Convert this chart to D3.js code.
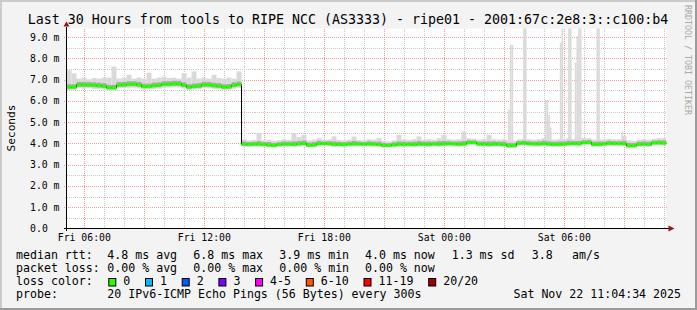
<!DOCTYPE html>
<html lang="en">
<head>
  <meta charset="UTF-8">
  <title>Smokeping - ripe01</title>
  <script src="https://d3js.org/d3.v7.min.js"></script>
  <style>
    body { margin: 0; background: #f3f3f3; }
    text { font-family: "DejaVu Sans Mono", monospace; fill: #000; }
  </style>
</head>
<body>
  <div id="chart"></div>
  <script>
    // 15 minute samples starting Fri 05:06:30 UTC, values in ms
    const t0 = Date.UTC(2025, 10, 21, 5, 6, 30);
    const sampleMin = 15;

    const median = [
      6.65,6.65,6.76,6.76,6.75,6.74,6.72,6.70,6.62,6.62,
      6.75,6.76,6.79,6.79,6.76,6.68,6.68,6.72,6.74,6.79,
      6.79,6.81,6.81,6.74,6.65,6.68,6.70,6.76,6.76,6.72,
      6.70,6.65,6.66,6.74,6.78,
      3.97,3.96,3.97,3.97,3.96,3.93,3.91,3.95,3.97,3.97,
      3.96,3.98,4.00,3.92,3.93,3.99,4.00,3.99,3.96,3.96,
      3.95,3.97,3.98,3.98,3.97,3.98,3.97,3.95,3.91,3.91,
      3.94,3.96,3.95,3.96,3.95,3.97,3.97,3.96,3.98,3.97,
      3.98,3.99,3.98,3.97,3.98,4.04,4.05,3.98,3.97,3.96,
      3.97,3.97,3.95,3.89,3.90,4.01,4.02,3.99,3.98,3.98,
      3.99,3.97,3.96,3.96,3.97,3.99,4.00,3.99,4.04,4.05,
      3.96,3.96,3.98,4.01,4.00,4.00,3.99,3.89,3.90,3.96,
      3.97,3.96,4.03,4.03,4.02
    ];

    const smokeHigh = [
      7.45,7.30,7.05,7.10,7.02,7.08,7.05,7.10,7.10,7.62,
      7.05,7.10,7.23,7.05,7.10,7.05,7.33,7.05,7.10,7.15,
      7.08,7.10,7.05,7.31,7.10,7.39,7.05,7.10,7.05,7.23,
      7.08,7.05,7.10,7.05,7.39,
      4.20,4.15,4.17,4.49,4.15,4.18,4.12,4.15,4.20,4.17,
      4.49,4.30,4.41,4.15,4.18,4.25,4.17,4.20,4.33,4.17,
      4.15,4.18,4.33,4.17,4.15,4.20,4.18,4.25,4.12,4.10,
      4.15,4.41,4.20,4.17,4.20,4.33,4.18,4.20,4.17,4.25,
      4.41,4.20,4.18,4.20,4.56,4.25,4.22,4.18,4.20,4.41,
      4.20,4.18,4.20,4.15,4.12,4.20,4.22,4.20,4.18,4.20,
      4.25,4.20,4.18,4.20,4.20,4.25,4.20,4.22,4.25,4.25,
      4.18,4.20,4.18,4.22,4.20,4.20,4.36,4.15,4.12,4.18,
      4.20,4.18,4.22,4.25,4.25
    ];

    const smokeLow = [
      6.52,6.53,6.60,6.58,6.60,6.57,6.56,6.55,6.50,6.50,
      6.60,6.60,6.62,6.62,6.60,6.54,6.55,6.57,6.58,6.62,
      6.63,6.64,6.63,6.58,6.52,6.54,6.56,6.60,6.60,6.57,
      6.56,6.52,6.53,6.58,6.62,
      3.85,3.84,3.85,3.85,3.84,3.81,3.80,3.83,3.85,3.85,
      3.84,3.86,3.88,3.81,3.82,3.87,3.88,3.87,3.84,3.84,
      3.83,3.85,3.86,3.86,3.85,3.86,3.85,3.83,3.80,3.80,
      3.82,3.84,3.83,3.84,3.83,3.85,3.85,3.84,3.86,3.85,
      3.86,3.87,3.86,3.85,3.86,3.92,3.93,3.86,3.85,3.84,
      3.85,3.85,3.83,3.78,3.79,3.89,3.90,3.87,3.86,3.86,
      3.87,3.85,3.84,3.84,3.85,3.87,3.88,3.87,3.92,3.93,
      3.84,3.84,3.86,3.89,3.88,3.88,3.87,3.78,3.79,3.84,
      3.85,3.84,3.91,3.91,3.90
    ];

    // single 5 minute steps with slow pings (step index from t0, max rtt in ms)
    const spikeStep = [265,266,267,274,275,287,288,289,290,296,297,301,302,305,306,307,308,318,319,333];
    const spikeTop  = [5.6,8.64,8.64,9.5,9.5,6.05,6.05,5.35,4.75,8.75,9.5,9.5,9.5,7.8,9.04,9.5,9.5,9.5,9.5,4.56];

    const yTicks = [1,2,3,4,5,6,7,8,9];
    const lossLabels = ["0","1","2","3","4-5","6-10","11-19","20/20"];
    const lossColors = ["#26ff00","#00b8ff","#0059ff","#7e00ff","#ff00ff","#ff5500","#ff0000","#a10000"];

    const rttLegend = ["median rtt:","4.8 ms avg","6.8 ms max","3.9 ms min","4.0 ms now","1.3 ms sd","3.8","am/s"];
    const lossLegend = ["packet loss:","0.00 % avg","0.00 % max","0.00 % min","0.00 % now"];
    const probeLegend = ["probe:","20 IPv6-ICMP Echo Pings (56 Bytes) every 300s"];
    const stamp = "Sat Nov 22 11:04:34 2025";
    const title = "Last 30 Hours from tools to RIPE NCC (AS3333) - ripe01 - 2001:67c:2e8:3::c100:b4";

    const W = 697, H = 310;
    const pL = 66.5, pR = 666.5, pT = 28.5, pB = 228.5;
    const colX = [16, 107.3, 193.3, 279.3, 365, 451.7, 531.7, 572];

    const svg = d3.select("#chart").append("svg")
      .attr("width", W).attr("height", H);

    // frame
    svg.append("rect").attr("width", W).attr("height", H).attr("fill", "#f3f3f3");
    svg.append("path").attr("d", `M1,${H} V1 H${W}`).attr("fill", "none")
      .attr("stroke", "#cbcbcb").attr("stroke-width", 2);
    svg.append("path").attr("d", `M0,${H - 1} H${W - 1} V0`).attr("fill", "none")
      .attr("stroke", "#9b9b9b").attr("stroke-width", 2);

    const x = d3.scaleUtc().domain([t0, t0 + 30 * 3600e3]).range([pL, pR]);
    const y = d3.scaleLinear().domain([0, 9.41]).range([pB, pT]);
    const tAt = i => t0 + i * sampleMin * 60e3;

    svg.append("rect").attr("x", pL).attr("y", pT)
      .attr("width", pR - pL).attr("height", pB - pT).attr("fill", "#fff");

    svg.append("clipPath").attr("id", "plot").append("rect")
      .attr("x", pL).attr("y", pT).attr("width", pR - pL).attr("height", pB - pT);

    // grid
    const grid = svg.append("g").attr("shape-rendering", "crispEdges")
      .attr("stroke-dasharray", "1,1").attr("fill", "none");
    const hours = d3.utcHour.range(new Date(t0), new Date(t0 + 30 * 3600e3));
    const halfSteps = d3.range(1, 19).map(k => k / 2);

    grid.selectAll(".vmin").data(hours.filter(d => d.getUTCHours() % 3 !== 0)).join("line")
      .attr("x1", d => Math.round(x(d)) + 0.5).attr("x2", d => Math.round(x(d)) + 0.5)
      .attr("y1", pT).attr("y2", pB).attr("stroke", "#c8c8c8");
    grid.selectAll(".hmin").data(halfSteps.filter(v => v % 1 !== 0)).join("line")
      .attr("x1", pL).attr("x2", pR)
      .attr("y1", d => Math.round(y(d)) + 0.5).attr("y2", d => Math.round(y(d)) + 0.5)
      .attr("stroke", "#c8c8c8");
    grid.selectAll(".vmaj").data(hours.filter(d => d.getUTCHours() % 3 === 0)).join("line")
      .attr("x1", d => Math.round(x(d)) + 0.5).attr("x2", d => Math.round(x(d)) + 0.5)
      .attr("y1", pT).attr("y2", pB).attr("stroke", "#f2a0a0");
    grid.selectAll(".hmaj").data(yTicks).join("line")
      .attr("x1", pL - 3).attr("x2", pR)
      .attr("y1", d => Math.round(y(d)) + 0.5).attr("y2", d => Math.round(y(d)) + 0.5)
      .attr("stroke", "#f2a0a0");

    // smoke
    const plot = svg.append("g").attr("clip-path", "url(#plot)");
    const idx = d3.range(median.length);

    plot.selectAll(".smoke").data(idx).join("rect")
      .attr("x", i => x(tAt(i))).attr("width", i => x(tAt(i + 1)) - x(tAt(i)))
      .attr("y", i => y(smokeHigh[i])).attr("height", i => y(smokeLow[i]) - y(smokeHigh[i]))
      .attr("fill", "#d9d9d9");

    plot.selectAll(".spike").data(spikeStep).join("rect")
      .attr("x", k => x(t0 + k * 300e3)).attr("width", k => x(t0 + (k + 1) * 300e3) - x(t0 + k * 300e3))
      .attr("y", (k, j) => y(spikeTop[j])).attr("height", (k, j) => y(3.95) - y(spikeTop[j]))
      .attr("fill", "#d9d9d9");

    const midHi = i => median[i] + Math.min(smokeHigh[i] - median[i], 0.25) * 0.55;
    const midLo = i => median[i] - (median[i] - smokeLow[i]) * 0.55;
    plot.selectAll(".smokemid").data(idx).join("rect")
      .attr("x", i => x(tAt(i))).attr("width", i => x(tAt(i + 1)) - x(tAt(i)))
      .attr("y", i => y(midHi(i))).attr("height", i => y(midLo(i)) - y(midHi(i)))
      .attr("fill", "#a9a9a9");

    // median
    const pts = idx.map(i => [tAt(i), median[i]]);
    pts.push([tAt(median.length), median[median.length - 1]]);
    plot.append("path").datum(pts)
      .attr("d", d3.line().x(d => x(d[0])).y(d => y(d[1])).curve(d3.curveStepAfter))
      .attr("fill", "none").attr("stroke", "#000").attr("stroke-width", 1);

    plot.selectAll(".med").data(idx).join("rect")
      .attr("x", i => x(tAt(i))).attr("width", i => x(tAt(i + 1)) - x(tAt(i)))
      .attr("y", i => y(median[i]) - 1.5).attr("height", 3)
      .attr("fill", lossColors[0]);

    // axes
    const axes = svg.append("g").attr("shape-rendering", "crispEdges");
    axes.append("line").attr("x1", pL).attr("x2", pL).attr("y1", pT - 2).attr("y2", pB + 2)
      .attr("stroke", "#000");
    axes.append("line").attr("x1", pL - 3).attr("x2", pR + 3).attr("y1", pB).attr("y2", pB)
      .attr("stroke", "#000");
    svg.append("path").attr("d", `M${pL - 3},${pT - 2} L${pL},${pT - 7} L${pL + 3},${pT - 2} Z`)
      .attr("fill", "#8b1a1a");
    svg.append("path").attr("d", `M${pR + 2},${pB - 3} L${pR + 8},${pB} L${pR + 2},${pB + 3} Z`)
      .attr("fill", "#8b1a1a");

    svg.selectAll(".ylab").data([0].concat(yTicks)).join("text")
      .attr("x", d => d === 0 ? 47.8 : 59.5).attr("y", d => y(d) + 3.5)
      .attr("text-anchor", "end").attr("font-size", "9.8px")
      .text(d => d === 0 ? "0.0" : d.toFixed(1) + " m");

    const fmt = d3.utcFormat("%a %H:%M");
    svg.selectAll(".xlab").data(hours.filter(d => d.getUTCHours() % 6 === 0)).join("text")
      .attr("x", d => x(d)).attr("y", 240.5).attr("text-anchor", "middle")
      .attr("font-size", "9.8px").text(d => fmt(d));

    svg.append("text").attr("transform", "translate(15,128) rotate(-90)")
      .attr("text-anchor", "middle").attr("font-size", "11.2px").text("Seconds");

    svg.append("text").attr("x", 348).attr("y", 24).attr("text-anchor", "middle")
      .attr("font-size", "13.3px").text(title);

    svg.append("text").attr("transform", "translate(685,5) rotate(90)")
      .attr("font-size", "8.3px").style("fill", "#a8a8a8").text("RRDTOOL / TOBI OETIKER");

    // legend
    const lg = svg.append("g").attr("font-size", "11.6px");
    const row = (items, yy) => lg.selectAll(null).data(items).enter().append("text")
      .attr("x", (d, i) => colX[i]).attr("y", yy).text(d => d);
    row(rttLegend, 258.5);
    row(lossLegend, 271.8);
    row(["loss color:"], 285.1);
    row(probeLegend, 298.4);
    lg.append("text").attr("x", 681).attr("y", 298.4).attr("text-anchor", "end").text(stamp);

    let sx = 108.3;
    lossLabels.forEach((lab, i) => {
      lg.append("rect").attr("x", sx + 0.5).attr("y", 278.5).attr("width", 7).attr("height", 7.5)
        .attr("fill", lossColors[i]).attr("stroke", "#000").attr("stroke-width", 1);
      lg.append("text").attr("x", sx + 15).attr("y", 285.1).text(lab);
      sx += 15 + lab.length * 7 + 14.7;
    });
  </script>
</body>
</html>
